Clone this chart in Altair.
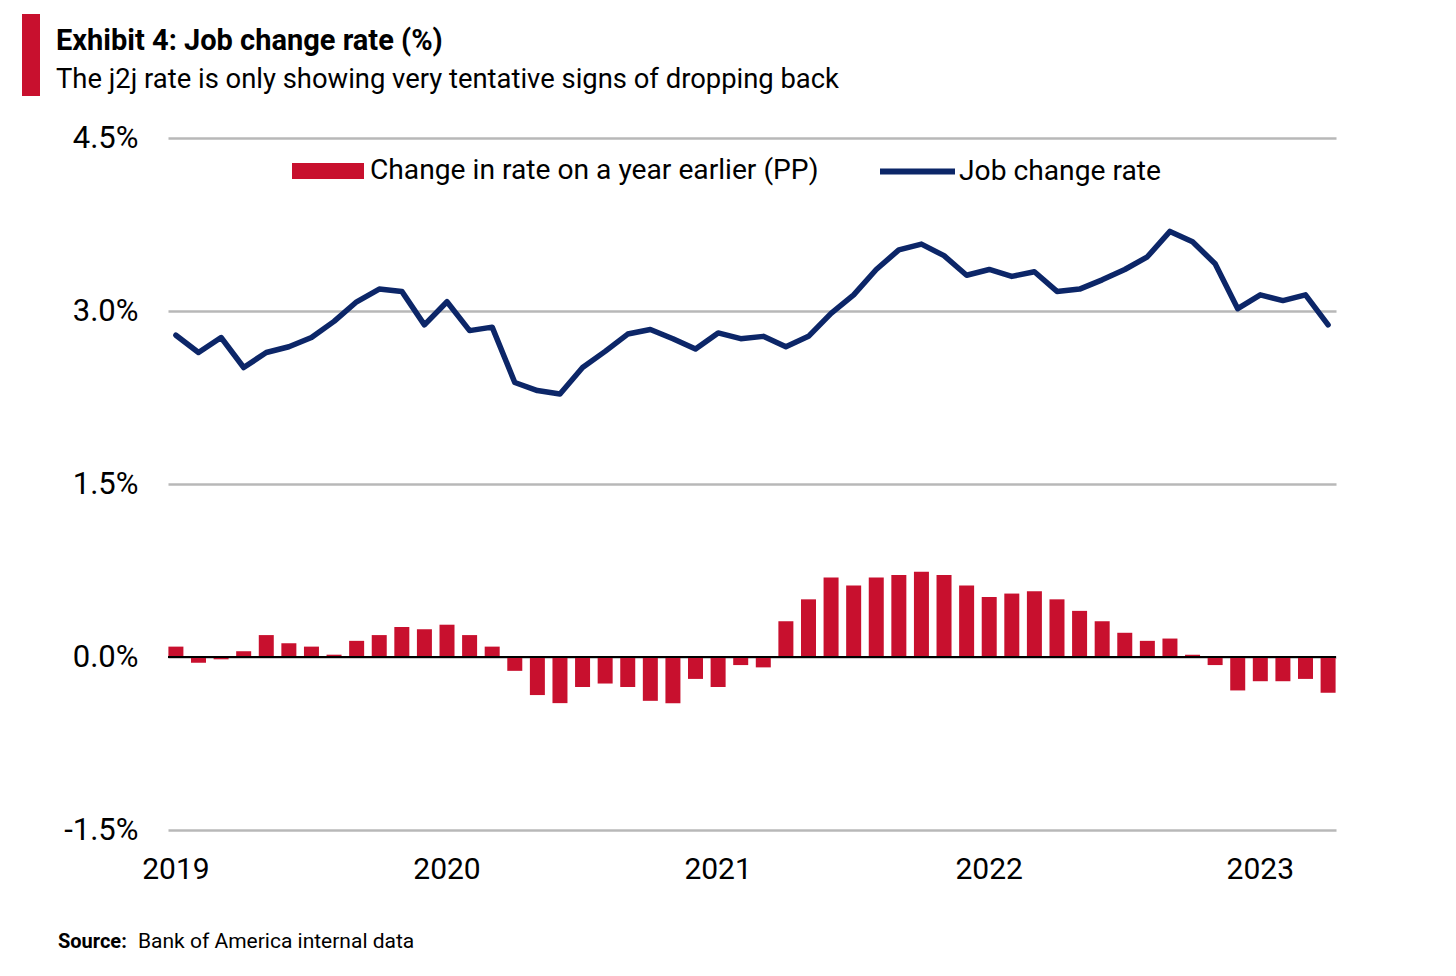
import altair as alt
import pandas as pd

months = list(pd.date_range("2019-01-01", periods=52, freq="MS").strftime("%Y-%m"))

job_change_rate = [
    2.79, 2.64, 2.77, 2.51, 2.64, 2.69, 2.77, 2.91, 3.08, 3.19, 3.17, 2.88,
    3.08, 2.83, 2.86, 2.38, 2.31, 2.28, 2.51, 2.65, 2.80, 2.84, 2.76, 2.67,
    2.81, 2.76, 2.78, 2.69, 2.78, 2.98, 3.14, 3.36, 3.53, 3.58, 3.48, 3.31,
    3.36, 3.30, 3.34, 3.17, 3.19, 3.27, 3.36, 3.47, 3.69, 3.60, 3.41, 3.02,
    3.14, 3.09, 3.14, 2.88,
]

change_yoy = [
    0.09, -0.05, -0.02, 0.05, 0.19, 0.12, 0.09, 0.02, 0.14, 0.19, 0.26, 0.24,
    0.28, 0.19, 0.09, -0.12, -0.33, -0.40, -0.26, -0.23, -0.26, -0.38, -0.40, -0.19,
    -0.26, -0.07, -0.09, 0.31, 0.50, 0.69, 0.62, 0.69, 0.71, 0.74, 0.71, 0.62,
    0.52, 0.55, 0.57, 0.50, 0.40, 0.31, 0.21, 0.14, 0.16, 0.02, -0.07, -0.29,
    -0.21, -0.21, -0.19, -0.31,
]

y_ticks = [-1.5, 0.0, 1.5, 3.0, 4.5]
bar_series = "Change in rate on a year earlier (PP)"
line_series = "Job change rate"
title_text = ["Exhibit 4: Job change rate (%)"]
subtitle_text = ["The j2j rate is only showing very tentative signs of dropping back"]
source_bold = ["Source:"]
source_text = ["Bank of America internal data"]

RED = "#c8102e"
NAVY = "#0c2668"
FONT = "Roboto, sans-serif"

df = pd.DataFrame({
    "month": months,
    "rate": job_change_rate,
    "change": change_yoy,
    "bar_s": [bar_series] * len(months),
    "line_s": [line_series] * len(months),
})

x_enc = alt.X(
    "month:O",
    sort=months,
    scale=alt.Scale(paddingInner=0.3, paddingOuter=0),
    axis=alt.Axis(
        title=None,
        ticks=False,
        domain=False,
        grid=False,
        labelAngle=0,
        labelFontSize=30,
        labelFont=FONT,
        labelColor="#000000",
        labelPadding=24,
        labelOverlap=False,
        labelExpr="substring(datum.value, 5, 7) == '01' ? substring(datum.value, 0, 4) : ''",
    ),
)

y_scale = alt.Scale(domain=[-1.5, 4.5], nice=False, zero=False)
y_axis = alt.Axis(
    title=None,
    values=y_ticks,
    ticks=False,
    domain=False,
    grid=True,
    gridColor="#b8b8b8",
    gridWidth=2.5,
    labelFontSize=31,
    labelFont=FONT,
    labelColor="#000000",
    labelPadding=30,
    labelExpr="replace(format(datum.value, '.1f'), '\u2212', '-') + '%'",
)

base = alt.Chart(df)

bars = base.mark_bar(size=15).encode(
    x=x_enc,
    y=alt.Y("change:Q", scale=y_scale, axis=y_axis),
    fill=alt.Fill(
        "bar_s:N",
        scale=alt.Scale(domain=[bar_series], range=[RED]),
        legend=alt.Legend(
            title=None,
            orient="none",
            legendX=124,
            legendY=-3,
            direction="horizontal",
            symbolType="M-1,-0.22H1V0.22H-1Z",
            symbolSize=5184,
            symbolStrokeWidth=0,
            labelFontSize=28.2,
            labelFont=FONT,
            labelColor="#000000",
            labelOffset=6,
            labelLimit=1000,
            padding=0,
        ),
    ),
)

zero_rule = alt.Chart(pd.DataFrame({"z": [0.0]})).mark_rule(
    color="#000000", strokeWidth=2
).encode(y=alt.Y("z:Q", scale=y_scale))

line = base.mark_line(strokeWidth=5.5, strokeJoin="round", strokeCap="round").encode(
    x=x_enc,
    y=alt.Y("rate:Q", scale=y_scale, axis=y_axis),
    stroke=alt.Stroke(
        "line_s:N",
        scale=alt.Scale(domain=[line_series], range=[NAVY]),
        legend=alt.Legend(
            title=None,
            orient="none",
            legendX=709,
            legendY=-7,
            direction="horizontal",
            symbolType="M-1,0H1",
            symbolSize=5625,
            symbolStrokeWidth=6,
            labelFontSize=28.2,
            labelFont=FONT,
            labelColor="#000000",
            labelOffset=1,
            labelLimit=1000,
            padding=0,
        ),
    ),
)

accent = alt.Chart(pd.DataFrame({"a": [1]})).mark_rect(color=RED).encode(
    x=alt.value(-146), x2=alt.value(-128), y=alt.value(-124), y2=alt.value(-42)
)

title = alt.Chart(pd.DataFrame({"t": title_text})).mark_text(
    align="left", baseline="alphabetic", fontSize=29, fontWeight="bold", font=FONT, color="#000000"
).encode(x=alt.value(-112), y=alt.value(-88), text="t:N")

subtitle = alt.Chart(pd.DataFrame({"t": subtitle_text})).mark_text(
    align="left", baseline="alphabetic", fontSize=27.4, font=FONT, color="#000000"
).encode(x=alt.value(-112), y=alt.value(-50), text="t:N")

src_b = alt.Chart(pd.DataFrame({"t": source_bold})).mark_text(
    align="left", baseline="alphabetic", fontSize=20, fontWeight="bold", font=FONT, color="#000000"
).encode(x=alt.value(-110), y=alt.value(810), text="t:N")

src = alt.Chart(pd.DataFrame({"t": source_text})).mark_text(
    align="left", baseline="alphabetic", fontSize=21, font=FONT, color="#000000"
).encode(x=alt.value(-30), y=alt.value(810), text="t:N")

chart = (
    alt.layer(bars, zero_rule, line, accent, title, subtitle, src_b, src)
    .resolve_scale(fill="independent", stroke="independent")
    .properties(width=1168, height=692, padding={"left": 14, "top": 6, "right": 5, "bottom": 5})
    .configure(background="#ffffff", view=alt.ViewConfig(stroke="transparent", strokeWidth=0))
)

chart.save("out.html", embed_options={"renderer": "svg", "actions": False})
